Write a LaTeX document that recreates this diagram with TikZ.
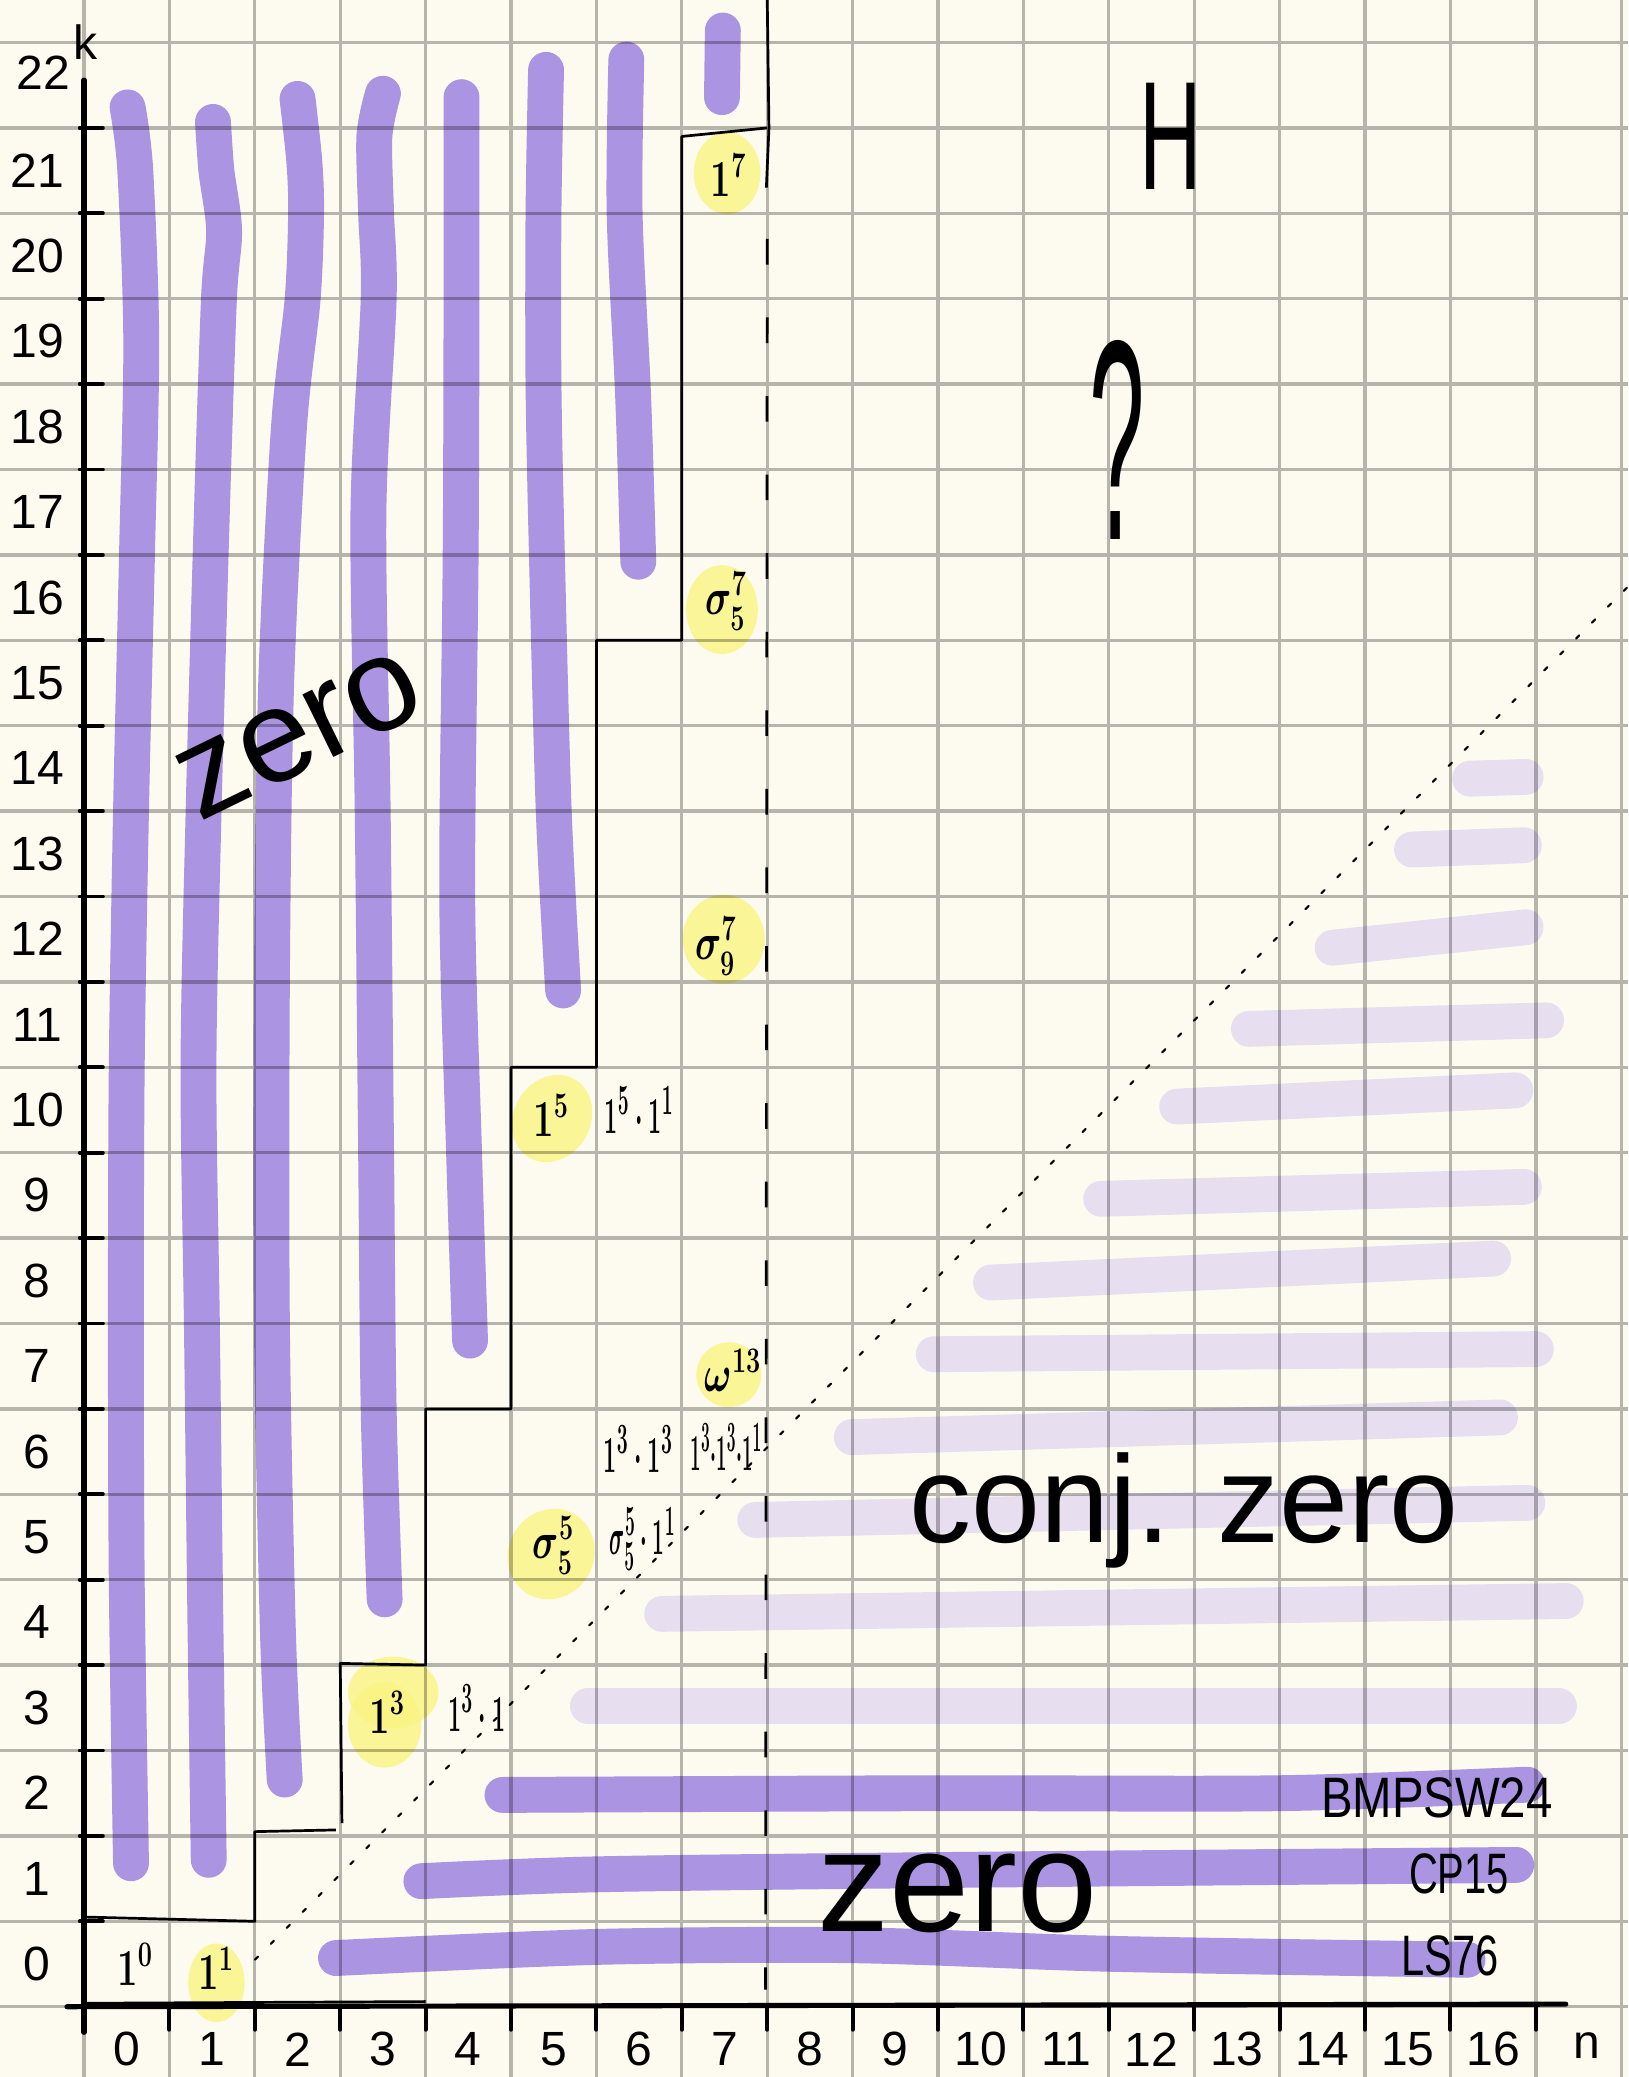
\documentclass[tikz,border=0pt]{standalone}
\usepackage[no-math]{fontspec}
\setmainfont{Liberation Sans}
\usetikzlibrary{positioning}

\definecolor{paper}{RGB}{253,251,239}
\definecolor{zeroviolet}{RGB}{171,148,226}
\definecolor{conjviolet}{RGB}{231,223,240}
\definecolor{marker}{RGB}{250,244,130}

\begin{document}
\begin{tikzpicture}[
    zstroke/.style={zeroviolet, line width=0.42cm, line cap=round, line join=round},
    czstroke/.style={conjviolet, line width=0.42cm, line cap=round},
    hl/.style={fill=marker, fill opacity=0.8},
    stair/.style={black, line width=0.9pt, line join=round},
    axis/.style={black, line width=1.7pt, line cap=round},
    num/.style={font=\fontsize{16}{18}\selectfont, inner sep=0pt},
    lbl/.style={font=\fontsize{18}{20}\selectfont\boldmath, xscale=0.7, inner sep=0pt},
    plbl/.style={font=\fontsize{19}{22}\selectfont\boldmath, xscale=0.45, inner sep=0pt},
    refl/.style={font=\fontsize{19}{22}\selectfont, inner sep=0pt},
    big/.style={font=\fontsize{#1}{#1}\selectfont, inner sep=0pt}
    ]
  \useasboundingbox (-0.984,-0.823) rectangle (18.08,23.498);
  \fill[paper] (-0.984,-0.823) rectangle (18.08,23.498);

  \foreach \xa/\ya/\xb/\yb in {5.9/3.52/17.27/3.52, 6.77/4.6/17.35/4.75, 7.86/5.7/16.9/5.9,
      8.99/6.67/16.58/6.9, 9.95/7.64/17.0/7.7, 10.62/8.48/16.5/8.76, 11.91/9.46/16.86/9.6,
      12.8/10.54/16.76/10.73, 13.64/11.45/17.12/11.55, 14.62/12.4/16.88/12.64,
      15.55/13.55/16.86/13.6, 16.23/14.38/16.88/14.4}
    \draw[czstroke] (\xa,\ya) -- (\xb,\yb);

  \draw[zstroke] plot[smooth] coordinates {(0.51,22.24) (0.6,21.5) (0.67,19.5) (0.62,17) (0.55,14) (0.5,11) (0.49,8) (0.5,5) (0.55,1.68)};
  \draw[zstroke] plot[smooth] coordinates {(1.51,22.07) (1.55,21.5) (1.64,20.8) (1.58,20) (1.5,17.6) (1.4,14) (1.34,11) (1.38,8) (1.42,4.6) (1.46,1.72)};
  \draw[zstroke] plot[smooth] coordinates {(2.5,22.34) (2.58,21.6) (2.6,21) (2.56,20) (2.4,18.5) (2.25,15.5) (2.2,12) (2.2,8) (2.27,4.4) (2.35,2.66)};
  \draw[zstroke] plot[smooth] coordinates {(3.5,22.4) (3.4,21.9) (3.42,21) (3.45,20) (3.33,17.5) (3.38,14) (3.42,10) (3.45,7) (3.52,4.77)};
  \draw[zstroke] plot[smooth] coordinates {(4.42,22.36) (4.42,20) (4.41,17) (4.37,13) (4.45,10) (4.52,7.8)};
  \draw[zstroke] plot[smooth] coordinates {(5.41,22.68) (5.38,21) (5.38,19) (5.42,17) (5.5,14) (5.61,11.9)};
  \draw[zstroke] plot[smooth] coordinates {(6.35,22.8) (6.33,21) (6.43,18.85) (6.49,16.92)};
  \draw[zstroke] (7.48,23.14) -- (7.47,22.36);

  \draw[zstroke] plot[smooth] coordinates {(2.95,0.57) (6,0.7) (9,0.72) (12,0.62) (16.2,0.55)};
  \draw[zstroke] plot[smooth] coordinates {(3.95,1.47) (6,1.55) (10,1.6) (16.77,1.66)};
  \draw[zstroke] plot[smooth] coordinates {(4.9,2.48) (10,2.5) (14,2.5) (16.9,2.6)};

  \fill[hl] (1.55,0.28) ellipse (0.33 and 0.46);
  \fill[hl] (3.52,3.3) ellipse (0.43 and 0.5);
  \fill[hl] (3.62,3.68) ellipse (0.53 and 0.42);
  \fill[hl, rotate around={-30:(5.48,10.4)}] (5.48,10.4) ellipse (0.45 and 0.53);
  \fill[hl, rotate around={-30:(5.47,5.3)}] (5.47,5.3) ellipse (0.5 and 0.54);
  \fill[hl] (7.55,7.4) ellipse (0.38 and 0.38);
  \fill[hl] (7.49,12.5) ellipse (0.48 and 0.52);
  \fill[hl] (7.47,16.36) ellipse (0.42 and 0.52);
  \fill[hl] (7.53,21.47) ellipse (0.39 and 0.48);

  \draw[black, opacity=0.28, line width=1.1pt] (-0.984,-0.823) grid (18.08,23.498);

  \draw[black, line width=0.7pt, line cap=round, dash pattern=on 1.5pt off 6pt] (2.0,0.55) -- (18.08,16.63);
  \draw[black, line width=0.9pt] (8.0,23.5) -- (8.02,22.0) -- (7.99,21.3);
  \draw[black, line width=0.9pt, dash pattern=on 0.3cm off 0.62cm] (8.0,20.7) -- (7.98,0.2);

  \draw[stair] (0,0.04) -- (4.0,0.06);
  \draw[stair] (0,1.05) -- (2.0,1.0) -- (2.0,2.05) -- (2.95,2.07);
  \draw[stair] (3.02,2.15) -- (3.0,4.02) -- (4.0,4.0) -- (4.0,7.0) -- (5.0,7.0) -- (5.0,11.0)
    -- (6.0,11.0) -- (6.0,16.0) -- (7.0,16.0) -- (7.0,21.9) -- (8.0,22.0);

  \draw[axis] (-0.2,0) -- (17.35,0.03);
  \draw[axis] (0,-0.3) -- (0,22.56);
  \foreach \k in {1,...,22}
    \draw[axis, line width=1.3pt] (-0.05,\k) -- (0.22,\k);
  \foreach \n in {1,...,17}
    \draw[axis, line width=1.3pt] (\n,0) -- (\n,-0.27);

  \foreach \k in {0,...,21}
    \node[num] (k\k) at (-0.55,\k+0.5) {\k};
  \node[num] (k22) at (-0.48,22.65) {22};
  \node[num] (kaxis) at (0.02,23.0) {k};
  \foreach \n in {0,...,16}
    \node[num] (n\n) at (\n+0.5,-0.5) {\n};
  \node[num] (naxis) at (17.6,-0.45) {n};

  \node[lbl] (one0) at (0.6,0.5) {$1^0$};
  \node[lbl] (one1) at (1.55,0.45) {$1^1$};
  \node[lbl] (one3) at (3.55,3.45) {$1^3$};
  \node[plbl] (one3one) at (4.6,3.5) {$1^3\cdot 1$};
  \node[lbl] (sig55) at (5.5,5.4) {$\sigma_5^5$};
  \node[plbl, xscale=0.9] (sig55one) at (6.54,5.48) {$\sigma_5^5\cdot 1^1$};
  \node[plbl] (one3one3) at (6.49,6.53) {$1^3\cdot 1^3$};
  \node[plbl, xscale=0.8] (one3one3one) at (7.52,6.55) {$1^3{\cdot}1^3{\cdot}1^1$};
  \node[lbl] (om13) at (7.6,7.45) {$\omega^{13}$};
  \node[lbl] (one5) at (5.47,10.44) {$1^5$};
  \node[plbl] (one5one) at (6.5,10.5) {$1^5\cdot 1^1$};
  \node[lbl] (sig97) at (7.4,12.42) {$\sigma_9^7$};
  \node[lbl] (sig57) at (7.52,16.46) {$\sigma_5^7$};
  \node[lbl] (one7) at (7.55,21.44) {$1^7$};

  \node[big=44, rotate=26] (zeroup) at (2.53,14.89) {zero};
  \node[big=48] (zerolow) at (10.23,1.33) {zero};
  \node[big=41.3, anchor=base west] (conj) at (9.66,5.43) {conj. zero};
  \node[big=51.5, xscale=0.56] (hgroup) at (12.73,21.9) {H};
  \node[big=95, xscale=0.35] (query) at (12.1,18.35) {?};

  \node[refl, xscale=0.83] (bmpsw) at (15.84,2.44) {BMPSW24};
  \node[refl, xscale=0.7] (cp) at (16.1,1.56) {CP15};
  \node[refl, xscale=0.73] (ls) at (16.0,0.6) {LS76};
\end{tikzpicture}
\end{document}
